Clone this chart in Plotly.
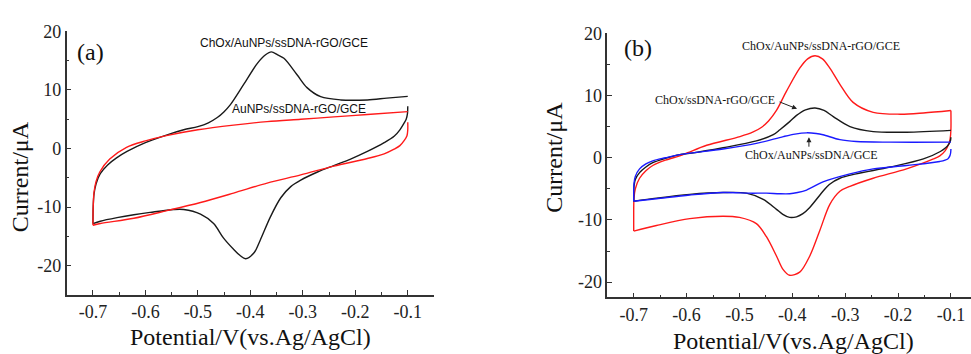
import plotly.graph_objects as go

# ---------------- data: panel (a) ----------------
a_black_rev_E = [-0.1, -0.1005, -0.103, -0.1073, -0.115, -0.126, -0.145, -0.177, -0.209, -0.241, -0.272,
                 -0.304, -0.323, -0.342, -0.362, -0.381, -0.393, -0.409, -0.419, -0.432, -0.451, -0.470,
                 -0.495, -0.527, -0.546, -0.591, -0.622, -0.654, -0.686, -0.7]
a_black_rev_I = [7.2, 6.0, 5.0, 4.3, 3.2, 2.1, 1.0, -0.5, -1.8, -2.9, -4.0,
                 -5.4, -6.5, -8.4, -11.7, -15.6, -17.8, -18.8, -18.3, -17.2, -15.3, -12.8,
                 -11.2, -10.4, -10.4, -10.9, -11.3, -11.8, -12.4, -12.8]
a_black_fwd_E = [-0.7, -0.6995, -0.698, -0.694, -0.686, -0.672, -0.655, -0.635, -0.6, -0.56, -0.527,
                 -0.5, -0.48, -0.463, -0.45, -0.438, -0.413, -0.387, -0.371, -0.36, -0.348, -0.336,
                 -0.311, -0.292, -0.266, -0.228, -0.177, -0.14, -0.1]
a_black_fwd_I = [-12.8, -10.0, -7.8, -6.0, -4.3, -2.8, -1.6, -0.5, 1.0, 2.3, 3.2,
                 3.75, 4.4, 5.3, 6.3, 7.5, 10.9, 14.5, 16.0, 16.5, 16.0, 15.4,
                 12.6, 10.4, 8.85, 8.3, 8.3, 8.6, 8.9]
a_red_rev_E = [-0.1, -0.1, -0.1015, -0.1073, -0.115, -0.126, -0.145, -0.177, -0.241, -0.304, -0.368,
               -0.432, -0.495, -0.559, -0.622, -0.686, -0.7]
a_red_rev_I = [4.5, 3.2, 2.2, 1.3, 0.5, -0.1, -0.9, -1.7, -3.0, -4.5, -5.9,
               -7.6, -9.2, -10.6, -11.9, -12.8, -13.1]
a_red_fwd_E = [-0.7, -0.6995, -0.698, -0.694, -0.687, -0.668, -0.636, -0.6, -0.56, -0.5, -0.432,
               -0.368, -0.304, -0.241, -0.177, -0.1]
a_red_fwd_I = [-13.1, -10.0, -7.5, -5.6, -4.0, -1.8, 0.2, 1.3, 2.2, 3.2, 4.0,
               4.6, 5.0, 5.4, 5.8, 6.3]

# ---------------- data: panel (b) ----------------
b_red_fwd_E = [-0.7, -0.7, -0.6995, -0.697, -0.689, -0.677, -0.664, -0.64, -0.613, -0.598, -0.562,
               -0.499, -0.475, -0.458, -0.445, -0.430, -0.411, -0.386, -0.371, -0.357, -0.343, -0.329,
               -0.31, -0.285, -0.247, -0.196, -0.152, -0.1]
b_red_fwd_I = [-11.8, -8.0, -6.5, -5.0, -3.3, -2.1, -1.25, -0.4, 0.3, 0.8, 2.0,
               3.4, 4.1, 4.9, 5.9, 7.6, 10.7, 14.4, 15.9, 16.4, 15.9, 14.4,
               11.8, 8.9, 7.3, 7.0, 7.2, 7.6]
b_red_rev_E = [-0.1, -0.1, -0.1015, -0.104, -0.111, -0.121, -0.133, -0.184, -0.247, -0.291, -0.310,
               -0.329, -0.348, -0.367, -0.386, -0.405, -0.418, -0.430, -0.449, -0.468, -0.5,
               -0.531, -0.594, -0.657, -0.7]
b_red_rev_I = [7.6, 4.5, 3.0, 2.2, 1.1, 0.3, -0.2, -1.8, -3.3, -4.6, -5.4,
               -7.5, -11.7, -15.8, -18.4, -18.9, -17.9, -15.8, -12.7, -10.6, -9.6,
               -9.4, -9.8, -10.9, -11.8]
b_black_fwd_E = [-0.7, -0.7, -0.6995, -0.697, -0.689, -0.677, -0.664, -0.64, -0.613, -0.594, -0.531,
                 -0.468, -0.436, -0.4235, -0.405, -0.392, -0.375, -0.357, -0.34, -0.3225, -0.291,
                 -0.247, -0.184, -0.1]
b_black_fwd_I = [-7.0, -5.5, -4.6, -3.5, -2.4, -1.5, -0.8, -0.1, 0.5, 0.7, 1.6,
                 2.7, 3.7, 4.5, 5.8, 6.8, 7.7, 8.0, 7.6, 6.6, 5.0,
                 4.2, 4.1, 4.4]
b_black_rev_E = [-0.1, -0.101, -0.104, -0.11, -0.12, -0.152, -0.215, -0.279, -0.310, -0.33, -0.342,
                 -0.367, -0.38, -0.392, -0.405, -0.418, -0.430, -0.455, -0.487, -0.531, -0.594,
                 -0.657, -0.7]
b_black_rev_I = [3.3, 2.7, 2.2, 1.6, 1.0, -0.2, -1.5, -2.6, -3.3, -4.3, -5.4,
                 -8.0, -9.0, -9.5, -9.6, -9.1, -8.3, -6.7, -5.7, -5.6, -5.9,
                 -6.5, -7.0]
b_blue_fwd_E = [-0.7, -0.7, -0.6995, -0.697, -0.689, -0.677, -0.664, -0.64, -0.613, -0.531, -0.468,
                -0.417, -0.395, -0.373, -0.355, -0.342, -0.310, -0.279, -0.215, -0.1]
b_blue_fwd_I = [-7.0, -5.0, -4.1, -3.0, -1.8, -1.0, -0.5, 0.0, 0.5, 1.4, 2.3,
                3.4, 3.8, 4.0, 3.9, 3.7, 2.9, 2.6, 2.5, 2.5]
b_blue_rev_E = [-0.1, -0.1005, -0.102, -0.106, -0.121, -0.184, -0.247, -0.291, -0.342, -0.373, -0.39,
                -0.405, -0.424, -0.449, -0.480, -0.531, -0.594, -0.657, -0.7]
b_blue_rev_I = [1.4, 0.8, 0.3, -0.2, -0.6, -1.25, -1.8, -2.6, -3.9, -5.2, -5.6,
                -5.8, -5.8, -5.7, -5.7, -5.6, -6.0, -6.6, -7.0]

# ---------------- ticks ----------------
x_tick_vals = [-0.7, -0.6, -0.5, -0.4, -0.3, -0.2, -0.1]
x_tick_text = ["-0.7", "-0.6", "-0.5", "-0.4", "-0.3", "-0.2", "-0.1"]
x_minor_vals = [-0.75, -0.65, -0.55, -0.45, -0.35, -0.25, -0.15, -0.05]
y_tick_vals = [-20, -10, 0, 10, 20]
y_tick_text = ["-20", "-10", "0", "10", "20"]
y_minor_vals = [-25, -15, -5, 5, 15]

RED = "#ff1a1a"
BLACK = "#1a1a1a"
BLUE = "#1a1aff"
SERIF = "Liberation Serif"
SANS = "Liberation Sans"

fig = go.Figure()


def seg(E, I, color, xa, ya):
    fig.add_trace(go.Scatter(
        x=E, y=I, mode="lines",
        line=dict(color=color, width=1.4, shape="spline", smoothing=0.9),
        xaxis=xa, yaxis=ya, showlegend=False, hoverinfo="skip"))


seg(a_black_rev_E, a_black_rev_I, BLACK, "x", "y")
seg(a_black_fwd_E, a_black_fwd_I, BLACK, "x", "y")
seg(a_red_rev_E, a_red_rev_I, RED, "x", "y")
seg(a_red_fwd_E, a_red_fwd_I, RED, "x", "y")
seg(b_red_rev_E, b_red_rev_I, RED, "x2", "y2")
seg(b_red_fwd_E, b_red_fwd_I, RED, "x2", "y2")
seg(b_black_rev_E, b_black_rev_I, BLACK, "x2", "y2")
seg(b_black_fwd_E, b_black_fwd_I, BLACK, "x2", "y2")
seg(b_blue_rev_E, b_blue_rev_I, BLUE, "x2", "y2")
seg(b_blue_fwd_E, b_blue_fwd_I, BLUE, "x2", "y2")

W, H = 971, 354


def xaxis(domain, rng):
    return dict(domain=domain, range=rng, showline=True, linecolor="#333", linewidth=1.5,
                ticks="inside", ticklen=5, tickwidth=1.3, tickcolor="#333",
                tickvals=x_tick_vals, ticktext=x_tick_text,
                minor=dict(ticks="inside", ticklen=3, tickwidth=1.2, tickcolor="#333", tickvals=x_minor_vals),
                showgrid=False, zeroline=False, mirror=False,
                tickfont=dict(family=SERIF, size=18, color="#222"))


def yaxis(domain, rng, anchor):
    return dict(domain=domain, range=rng, anchor=anchor, showline=True, linecolor="#333", linewidth=1.5,
                ticks="inside", ticklen=5, tickwidth=1.3, tickcolor="#333",
                tickvals=y_tick_vals, ticktext=y_tick_text,
                minor=dict(ticks="inside", ticklen=3, tickwidth=1.2, tickcolor="#333", tickvals=y_minor_vals),
                showgrid=False, zeroline=False, mirror=False,
                tickfont=dict(family=SERIF, size=18, color="#222"))


fig.update_layout(
    width=W, height=H, margin=dict(l=0, r=0, t=0, b=0),
    paper_bgcolor="white", plot_bgcolor="white",
    xaxis=dict(xaxis([66.7 / W, 434 / W], [-0.75, -0.05]), anchor="y"),
    yaxis=yaxis([1 - 293.3 / H, 1 - 22 / H], [-25, 20], "x"),
    xaxis2=dict(xaxis([607.3 / W, 1.0], [-0.75, -0.062]), anchor="y2"),
    yaxis2=yaxis([1 - 295.7 / H, 1 - 24 / H], [-22.45, 20], "x2"),
)

ann = []


def ptext(text, px, py, size, family, angle=0):
    ann.append(dict(text=text, x=px / W, y=1 - py / H, xref="paper", yref="paper",
                    xanchor="center", yanchor="middle", showarrow=False, textangle=angle,
                    font=dict(family=family, size=size, color="#111")))


# axis titles
ptext("Current/μA", 20, 172, 24, SERIF, -90)
ptext("Potential/V(vs.Ag/AgCl)", 250.5, 336, 24, SERIF)
ptext("Current/μA", 554, 152, 24, SERIF, -90)
ptext("Potential/V(vs.Ag/AgCl)", 793, 341, 24, SERIF)

# panel labels
ann.append(dict(text="(a)", x=-0.7046, y=16.4, xref="x", yref="y", showarrow=False,
                font=dict(family=SERIF, size=24, color="#111")))
ann.append(dict(text="(b)", x=-0.691, y=17.7, xref="x2", yref="y2", showarrow=False,
                font=dict(family=SERIF, size=24, color="#111")))

# curve labels panel a
ann.append(dict(text="ChOx/AuNPs/ssDNA-rGO/GCE", x=-0.3363, y=17.98, xref="x", yref="y", showarrow=False,
                font=dict(family=SANS, size=12, color="#111")))
ann.append(dict(text="AuNPs/ssDNA-rGO/GCE", x=-0.3078, y=6.8, xref="x", yref="y", showarrow=False,
                font=dict(family=SANS, size=12, color="#111")))

# curve labels panel b
ann.append(dict(text="ChOx/AuNPs/ssDNA-rGO/GCE", x=-0.3464, y=17.9, xref="x2", yref="y2", showarrow=False,
                font=dict(family=SERIF, size=12, color="#111")))
ann.append(dict(text="ChOx/ssDNA-rGO/GCE", x=-0.546, y=9.27, xref="x2", yref="y2", showarrow=False,
                font=dict(family=SERIF, size=12, color="#111")))
ann.append(dict(text="ChOx/AuNPs/ssDNA/GCE", x=-0.3632, y=0.47, xref="x2", yref="y2", showarrow=False,
                font=dict(family=SERIF, size=12, color="#111")))
# arrows
ann.append(dict(text="", x=-0.391, y=7.86, xref="x2", yref="y2", showarrow=True, ax=-19, ay=-7.5,
                arrowhead=2, arrowsize=1, arrowwidth=1, arrowcolor="#222"))
ann.append(dict(text="", x=-0.3686, y=3.3, xref="x2", yref="y2", showarrow=True, ax=0, ay=11,
                arrowhead=2, arrowsize=1, arrowwidth=1, arrowcolor="#222"))

fig.update_layout(annotations=ann)
fig.write_html("out.html")
